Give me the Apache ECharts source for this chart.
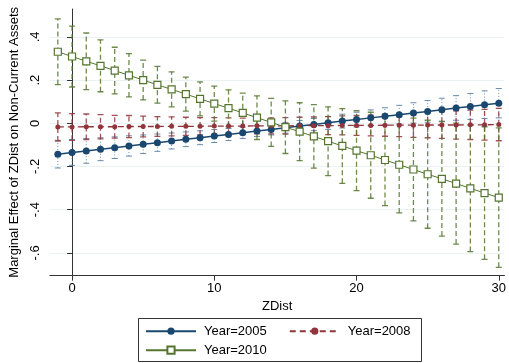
<!DOCTYPE html>
<html>
<head>
<meta charset="utf-8">
<script src="https://cdn.jsdelivr.net/npm/echarts@6/dist/echarts.min.js"></script>
<style>
html,body{margin:0;padding:0;background:#fff;}
#chart{width:509px;height:363px;}
</style>
</head>
<body>
<div id="chart"></div>
<script>
// ZDist values
var zdist = [-1,0,1,2,3,4,5,6,7,8,9,10,11,12,13,14,15,16,17,18,19,20,21,22,23,24,25,26,27,28,29,30];

// Year=2005
var y2005 = [-0.143,-0.135,-0.128,-0.120,-0.113,-0.105,-0.097,-0.090,-0.082,-0.074,-0.067,-0.059,-0.052,-0.044,-0.036,-0.029,-0.021,-0.013,-0.006,0.002,0.010,0.017,0.025,0.032,0.040,0.048,0.055,0.063,0.071,0.078,0.086,0.093];
var lo2005 = [-0.207,-0.195,-0.185,-0.173,-0.163,-0.152,-0.140,-0.130,-0.119,-0.108,-0.099,-0.089,-0.080,-0.070,-0.061,-0.054,-0.046,-0.039,-0.034,-0.028,-0.022,-0.017,-0.012,-0.008,-0.003,0.001,0.005,0.010,0.014,0.018,0.022,0.025];
var hi2005 = [-0.079,-0.075,-0.071,-0.067,-0.063,-0.058,-0.054,-0.050,-0.045,-0.040,-0.035,-0.029,-0.024,-0.018,-0.011,-0.004,0.004,0.013,0.022,0.032,0.042,0.051,0.062,0.072,0.083,0.095,0.105,0.116,0.128,0.138,0.150,0.161];

// Year=2008
var y2008 = [-0.017,-0.017,-0.016,-0.016,-0.016,-0.015,-0.015,-0.015,-0.014,-0.014,-0.014,-0.013,-0.013,-0.013,-0.012,-0.012,-0.012,-0.011,-0.011,-0.011,-0.010,-0.010,-0.010,-0.009,-0.009,-0.009,-0.008,-0.008,-0.008,-0.007,-0.007,-0.006];
var lo2008 = [-0.082,-0.079,-0.075,-0.072,-0.069,-0.066,-0.063,-0.061,-0.058,-0.056,-0.054,-0.052,-0.051,-0.050,-0.049,-0.049,-0.050,-0.050,-0.051,-0.053,-0.054,-0.056,-0.058,-0.060,-0.062,-0.065,-0.067,-0.070,-0.073,-0.075,-0.078,-0.081];
var hi2008 = [0.048,0.045,0.043,0.040,0.037,0.036,0.033,0.031,0.030,0.028,0.026,0.026,0.025,0.024,0.025,0.025,0.026,0.028,0.029,0.031,0.034,0.036,0.038,0.042,0.044,0.047,0.051,0.054,0.057,0.061,0.064,0.069];

// Year=2010
var y2010 = [0.331,0.309,0.287,0.266,0.244,0.222,0.200,0.178,0.157,0.135,0.113,0.091,0.070,0.048,0.026,0.004,-0.018,-0.039,-0.061,-0.083,-0.105,-0.127,-0.148,-0.170,-0.192,-0.214,-0.236,-0.257,-0.279,-0.301,-0.323,-0.344];
var lo2010 = [0.179,0.168,0.156,0.146,0.136,0.122,0.108,0.093,0.076,0.056,0.034,0.010,-0.015,-0.044,-0.075,-0.107,-0.140,-0.173,-0.208,-0.242,-0.278,-0.312,-0.347,-0.381,-0.415,-0.452,-0.486,-0.522,-0.559,-0.594,-0.630,-0.667];
var hi2010 = [0.483,0.450,0.418,0.386,0.352,0.322,0.292,0.263,0.238,0.214,0.192,0.172,0.155,0.140,0.127,0.115,0.104,0.095,0.086,0.076,0.068,0.058,0.051,0.041,0.031,0.024,0.014,0.008,0.001,-0.008,-0.016,-0.021];

// tick labels
var xTicks = [0,10,20,30];
var yTicks = [-0.6,-0.4,-0.2,0,0.2,0.4];
var yTickLabels = ['-.6','-.4','-.2','0','.2','.4'];

var C05 = '#1a476f', C08 = '#90353b', C10 = '#55752f';
var FONT = '"Liberation Sans", Arial, sans-serif';

function pairs(ys){ return zdist.map(function(x,i){ return [x, ys[i]]; }); }

function rcap(lo, hi, color, dash, width, opacity){
  return {
    type: 'custom',
    silent: true,
    z: 1,
    clip: true,
    encode: {x: 0, y: [1, 2]},
    data: zdist.map(function(x,i){ return [x, lo[i], hi[i]]; }),
    renderItem: function(params, api){
      var x = api.value(0);
      var pl = api.coord([x, api.value(1)]);
      var ph = api.coord([x, api.value(2)]);
      var w = 3;
      var st = {stroke: color, lineWidth: width, opacity: opacity};
      return {
        type: 'group',
        children: [
          {type: 'line', shape: {x1: pl[0], y1: pl[1], x2: ph[0], y2: ph[1]},
           style: {stroke: color, lineWidth: width, lineDash: dash, opacity: opacity}},
          {type: 'line', shape: {x1: pl[0]-w, y1: pl[1], x2: pl[0]+w, y2: pl[1]}, style: st},
          {type: 'line', shape: {x1: ph[0]-w, y1: ph[1], x2: ph[0]+w, y2: ph[1]}, style: st}
        ]
      };
    }
  };
}

var chart = echarts.init(document.getElementById('chart'), null, {renderer: 'canvas'});
chart.setOption({
  animation: false,
  backgroundColor: '#fff',
  textStyle: {fontFamily: FONT},
  grid: {left: 49.3, right: 0, top: 9, bottom: 87.3, containLabel: false},
  xAxis: {
    type: 'value',
    min: -1.557, max: 30.40,
    name: 'ZDist', nameLocation: 'middle', nameGap: 18,
    nameTextStyle: {color: '#000', fontSize: 13, fontFamily: FONT},
    axisLine: {show: true, onZero: false, lineStyle: {color: '#333', width: 1}},
    axisTick: {show: true, length: 5, customValues: xTicks, lineStyle: {color: '#333'}},
    axisLabel: {customValues: xTicks, margin: 6, color: '#000', fontSize: 13, fontFamily: FONT},
    splitLine: {show: false}
  },
  yAxis: {
    type: 'value',
    min: -0.7056, max: 0.529,
    name: 'Marginal Effect of ZDist on Non-Current Assets',
    nameLocation: 'middle', nameGap: 26, nameRotate: 90,
    nameTextStyle: {color: '#000', fontSize: 13, fontFamily: FONT},
    axisLine: {show: true, lineStyle: {color: '#333', width: 1}},
    axisTick: {show: true, length: 5, customValues: yTicks, lineStyle: {color: '#333'}},
    axisLabel: {
      customValues: yTicks, rotate: 90, margin: 8, color: '#000', fontSize: 13, fontFamily: FONT,
      formatter: function(v){ var i = yTicks.findIndex(function(t){ return Math.abs(t - v) < 1e-9; }); return i >= 0 ? yTickLabels[i] : ''; }
    },
    splitLine: {show: true, lineStyle: {color: '#eaf2f3', width: 1}}
  },
  legend: [
    {
      data: ['Year=2005', 'Year=2008'],
      left: 145, top: 324.7, padding: 0, itemGap: 22,
      itemWidth: 50, itemHeight: 9,
      textStyle: {color: '#000', fontSize: 13, fontFamily: FONT, padding: [0,0,0,3]}
    },
    {
      data: ['Year=2010'],
      left: 145, top: 343.7, padding: 0,
      itemWidth: 50, itemHeight: 9,
      textStyle: {color: '#000', fontSize: 13, fontFamily: FONT, padding: [0,0,0,3]}
    }
  ],
  graphic: [
    {type: 'rect', shape: {x: 138.5, y: 318.5, width: 283, height: 43},
     style: {fill: 'none', stroke: '#333', lineWidth: 1}, silent: true}
  ],
  series: [
    rcap(lo2005, hi2005, '#5a7fa3', [1, 2], 1, 0.9),
    rcap(lo2008, hi2008, C08, [5, 3], 1.3, 0.85),
    rcap(lo2010, hi2010, C10, [5, 3], 1.3, 0.85),
    {
      name: 'Year=2005', type: 'line', z: 3, data: pairs(y2005),
      symbol: 'circle', symbolSize: 7,
      itemStyle: {color: C05},
      lineStyle: {color: C05, width: 1.5}
    },
    {
      name: 'Year=2008', type: 'line', z: 3, data: pairs(y2008),
      symbol: 'circle', symbolSize: 5,
      itemStyle: {color: C08},
      lineStyle: {color: C08, width: 1.3, type: [6, 4]}
    },
    {
      name: 'Year=2010', type: 'line', z: 3, data: pairs(y2010),
      symbol: 'rect', symbolSize: 7,
      itemStyle: {color: '#fff', borderColor: C10, borderWidth: 1.2},
      lineStyle: {color: C10, width: 1}
    }
  ]
});
</script>
</body>
</html>
